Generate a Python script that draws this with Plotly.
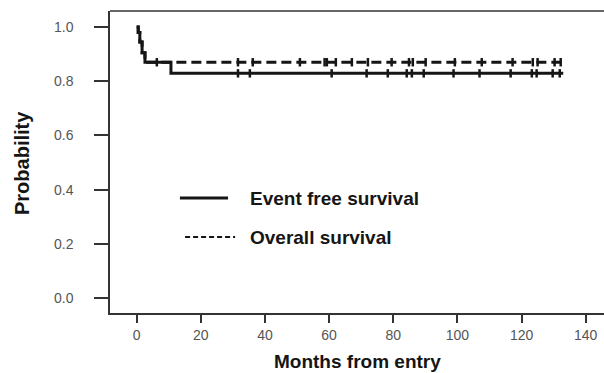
import plotly.graph_objects as go
import numpy as np

# Kaplan-Meier step data (months, probability)
efs_t = [0, 0.5, 1.0, 1.7, 2.6, 10.7, 133.0]
efs_p = [1.0, 0.98, 0.945, 0.905, 0.87, 0.829, 0.829]
os_t = [0, 0.5, 1.0, 1.7, 2.6, 133.0]
os_p = [1.0, 0.98, 0.945, 0.905, 0.87, 0.87]

# censoring times
efs_cens = [31.6, 35.3, 60.8, 71.7, 78.3, 84.2, 85.8, 89.5, 98.8, 106.9,
            116.6, 123.2, 124.7, 129.7, 131.9]
os_cens = [6.3, 31.6, 36.2, 50.9, 58.6, 59.3, 62.1, 67.1, 72.1, 79.5, 84.9,
           86.1, 90.1, 99.2, 107.6, 117.2, 123.5, 125.0, 130.3, 132.2]

x_ticks = [0, 20, 40, 60, 80, 100, 120, 140]
y_ticks = [0.0, 0.2, 0.4, 0.6, 0.8, 1.0]
y_labels = ["0.0", "0.2", "0.4", "0.6", "0.8", "1.0"]

legend_labels = ["Event free survival", "Overall survival"]


def step_at(ts, ps, t):
    idx = np.searchsorted(ts, t, side="right") - 1
    return ps[max(idx, 0)]


INK = "#151515"
FONT = "Liberation Sans, Arial"
fig = go.Figure()
fig.add_trace(go.Scatter(x=efs_t, y=efs_p, mode="lines", line_shape="hv",
                         line=dict(color=INK, width=3), showlegend=False))
fig.add_trace(go.Scatter(x=os_t, y=os_p, mode="lines", line_shape="hv",
                         line=dict(color=INK, width=3, dash="10px,5px"),
                         showlegend=False))
fig.add_trace(go.Scatter(x=efs_cens, y=[step_at(efs_t, efs_p, t) for t in efs_cens],
                         mode="markers",
                         marker=dict(symbol="line-ns", size=6,
                                     line=dict(color=INK, width=2.5)),
                         showlegend=False))
fig.add_trace(go.Scatter(x=os_cens, y=[step_at(os_t, os_p, t) for t in os_cens],
                         mode="markers",
                         marker=dict(symbol="line-ns", size=6,
                                     line=dict(color=INK, width=2.5)),
                         showlegend=False))

X0, X1 = -8.3, 145.7
Y0, Y1 = -0.055, 1.059

# Legend drawn inside the plot
fig.add_shape(type="line", xref="x", yref="y", x0=13.5, x1=28.5, y0=0.369, y1=0.369,
              line=dict(color=INK, width=3))
fig.add_shape(type="line", xref="x", yref="y", x0=15.1, x1=30.7, y0=0.225, y1=0.225,
              line=dict(color=INK, width=2, dash="5px,3px"))
fig.add_annotation(x=34.7, y=0.369, xref="x", yref="y", text=legend_labels[0],
                   showarrow=False, xanchor="left", yanchor="middle",
                   font=dict(family=FONT, size=19, color=INK, weight="bold"))
fig.add_annotation(x=34.7, y=0.225, xref="x", yref="y", text=legend_labels[1],
                   showarrow=False, xanchor="left", yanchor="middle",
                   font=dict(family=FONT, size=19, color=INK, weight="bold"))

# top frame line
fig.add_shape(type="line", xref="paper", yref="paper", x0=0, x1=1, y0=1, y1=1,
              line=dict(color="#333", width=1.5))

L, R, T, B = 110, 0, 11, 60
W, H = 604, 373
pw, ph = W - L - R, H - T - B

# axis titles (positions in paper coords derived from pixels)
fig.add_annotation(x=0.5, y=(H - B - 361) / ph, xref="paper", yref="paper",
                   text="Months from entry", showarrow=False,
                   xanchor="center", yanchor="middle",
                   font=dict(family=FONT, size=19, color=INK, weight="bold"))
fig.add_annotation(x=(22 - L) / pw, y=(H - B - 163) / ph, xref="paper", yref="paper",
                   text="Probability", showarrow=False, textangle=-90,
                   xanchor="center", yanchor="middle",
                   font=dict(family=FONT, size=20, color=INK, weight="bold"))

fig.update_layout(
    width=W, height=H,
    margin=dict(l=L, r=R, t=T, b=B),
    paper_bgcolor="white", plot_bgcolor="white",
    showlegend=False,
    xaxis=dict(range=[X0, X1], tickvals=x_ticks, ticktext=[str(v) for v in x_ticks],
               showgrid=False, zeroline=False, showline=True, linecolor="#333", linewidth=1.5,
               ticks="outside", ticklen=8, tickwidth=1.5, tickcolor="#333",
               tickfont=dict(family=FONT, size=14, color="#555")),
    yaxis=dict(range=[Y0, Y1], tickvals=y_ticks, ticktext=y_labels,
               showgrid=False, zeroline=False, showline=True, linecolor="#333", linewidth=1.5,
               ticks="outside", ticklen=14, tickwidth=1.5, tickcolor="#333",
               ticklabelstandoff=18,
               tickfont=dict(family=FONT, size=14, color="#555")),
)

fig.write_html("out.html")
